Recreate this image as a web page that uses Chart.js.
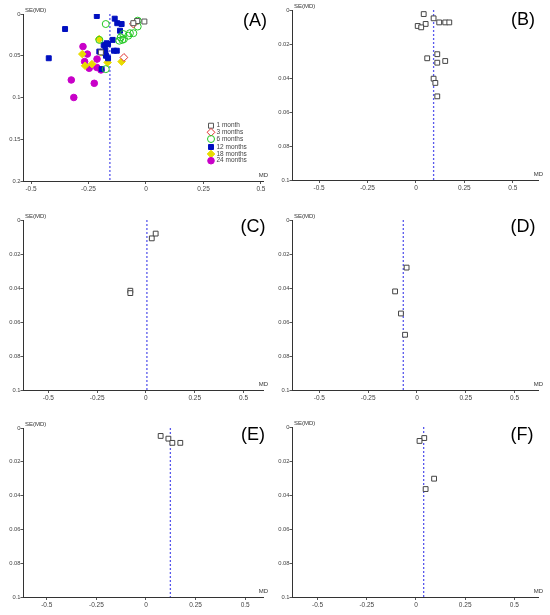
<!DOCTYPE html>
<html>
<head>
<meta charset="utf-8">
<script src="https://cdn.jsdelivr.net/npm/chart.js@4.4.1/dist/chart.umd.min.js"></script>
<style>
  html, body { margin: 0; padding: 0; background: #fff; }
  #wrap { position: relative; width: 550px; height: 615px; }
  #wrap canvas { position: absolute; }
</style>
</head>
<body>
<div id="wrap">
  <canvas id="cA" width="275" height="200" style="left:0;top:0"></canvas>
  <canvas id="cB" width="275" height="200" style="left:275px;top:0"></canvas>
  <canvas id="cC" width="275" height="200" style="left:0;top:200px"></canvas>
  <canvas id="cD" width="275" height="200" style="left:275px;top:200px"></canvas>
  <canvas id="cE" width="275" height="215" style="left:0;top:400px"></canvas>
  <canvas id="cF" width="275" height="215" style="left:275px;top:400px"></canvas>
</div>
<script>
// tick labels
const mdTicks = [-0.5, -0.25, 0, 0.25, 0.5];
const seTicksA = [0, 0.05, 0.1, 0.15, 0.2];
const seTicks = [0, 0.02, 0.04, 0.06, 0.08, 0.1];

// panel A: follow-up groups
const groupsA = ['1 month', '3 months', '6 months', '12 months', '18 months', '24 months'];
const md1m = [-0.007, -0.038, -0.055, -0.196];
const se1m = [0.009, 0.0084, 0.011, 0.046];
const md3m = [-0.055, -0.096];
const se3m = [0.012, 0.052];
const md6m = [-0.175, -0.036, -0.036, -0.055, -0.077, -0.099, -0.11, -0.103, -0.116, -0.096, -0.203, -0.175, -0.07];
const se6m = [0.012, 0.008, 0.015, 0.023, 0.026, 0.024, 0.028, 0.031, 0.032, 0.030, 0.031, 0.066, 0.023];
const md12m = [-0.214, -0.352, -0.423, -0.136, -0.125, -0.106, -0.113, -0.145, -0.165, -0.184, -0.177, -0.203, -0.177, -0.174, -0.165, -0.139, -0.127, -0.193, -0.171];
const se12m = [0.0024, 0.018, 0.053, 0.0056, 0.011, 0.012, 0.020, 0.031, 0.036, 0.037, 0.043, 0.045, 0.047, 0.050, 0.053, 0.044, 0.044, 0.066, 0.035];
const md18m = [-0.204, -0.196, -0.277, -0.265, -0.235, -0.167, -0.106];
const se18m = [0.030, 0.046, 0.048, 0.062, 0.060, 0.058, 0.057];
const md24m = [-0.274, -0.255, -0.213, -0.267, -0.247, -0.214, -0.196, -0.325, -0.225, -0.314];
const se24m = [0.039, 0.048, 0.054, 0.057, 0.065, 0.064, 0.067, 0.079, 0.083, 0.100];

// panels B-F
const mdB = [0.04, 0.091, 0.12, 0.151, 0.172, 0.05, 0.009, 0.027, 0.11, 0.058, 0.11, 0.151, 0.091, 0.1, 0.11];
const seB = [0.0024, 0.0049, 0.0073, 0.0073, 0.0073, 0.0082, 0.0094, 0.0102, 0.026, 0.0284, 0.031, 0.030, 0.0404, 0.0429, 0.0508];
const mdC = [0.03, 0.05, -0.08, -0.08];
const seC = [0.0108, 0.008, 0.0416, 0.043];
const mdD = [-0.053, -0.112, -0.082, -0.061];
const seD = [0.028, 0.042, 0.055, 0.0675];
const mdE = [0.074, 0.113, 0.133, 0.173];
const seE = [0.0047, 0.0063, 0.0088, 0.0088];
const mdF = [0.042, 0.018, 0.092, 0.049];
const seF = [0.0065, 0.0082, 0.0304, 0.0365];

// pooled estimate per panel
const panelNames = ['A', 'B', 'C', 'D', 'E', 'F'];
const pooledMD = [-0.157, 0.091, 0.005, -0.07, 0.123, 0.039];

const FONT = "'Liberation Sans', Arial, sans-serif";

function pts(md, se) {
  return md.map((v, i) => ({ x: v, y: se[i] }));
}

const stylesA = [
  { pointStyle: 'rect', radius: 3.5, bg: '#fff', border: '#555' },
  { pointStyle: 'rectRot', radius: 3.9, bg: '#fff', border: '#e03030' },
  { pointStyle: 'circle', radius: 3.5, bg: 'rgba(255,255,255,0)', border: '#22c822' },
  { pointStyle: 'rect', radius: 3.5, bg: '#0010c0', border: '#0010c0' },
  { pointStyle: 'rectRot', radius: 3.8, bg: '#e8dc00', border: '#e8dc00' },
  { pointStyle: 'circle', radius: 3.3, bg: '#c800c8', border: '#c800c8' }
];

const textPlugin = {
  id: 'panelText',
  afterDraw(chart, args, o) {
    const ctx = chart.ctx;
    const a = chart.chartArea;
    ctx.save();
    ctx.fillStyle = '#333';
    ctx.font = '6px ' + FONT;
    ctx.textBaseline = 'middle';
    ctx.textAlign = 'left';
    ctx.fillText('SE(MD)', a.left + 2, a.top - 4);
    ctx.textAlign = 'right';
    ctx.fillText('MD', a.right + 5, a.bottom - 6);
    ctx.fillStyle = '#000';
    ctx.font = '18px ' + FONT;
    ctx.textAlign = 'center';
    ctx.fillText('(' + o.letter + ')', o.lx, o.ly);
    if (o.legend) {
      ctx.font = '6.5px ' + FONT;
      ctx.textAlign = 'left';
      const ys = [125.7, 132.3, 139, 147, 154, 160.7];
      groupsA.forEach((g, i) => {
        const s = stylesA[i];
        ctx.fillStyle = s.bg;
        ctx.strokeStyle = s.border;
        ctx.lineWidth = 1;
        Chart.helpers.drawPoint(ctx, { pointStyle: s.pointStyle, radius: s.radius, rotation: 0, borderWidth: 1 }, 211, ys[i]);
        ctx.fillStyle = '#444';
        ctx.fillText(g, 216.5, ys[i]);
      });
    }
    ctx.restore();
  }
};

function makePanel(id, cfg) {
  const canvas = document.getElementById(id);
  const pooled = pooledMD[panelNames.indexOf(cfg.letter)];
  const datasets = cfg.series.map(s => ({
    data: s.data,
    pointStyle: s.style.pointStyle,
    pointRadius: s.style.radius,
    pointBackgroundColor: s.style.bg,
    pointBorderColor: s.style.border,
    pointBorderWidth: 1,
    showLine: false,
    order: 1
  }));
  datasets.push({
    type: 'line',
    data: [{ x: pooled, y: 0 }, { x: pooled, y: cfg.seMax }],
    borderColor: '#5858ec',
    borderWidth: 1.3,
    borderDash: [2, 2],
    pointRadius: 0,
    order: 10
  });
  new Chart(canvas, {
    type: 'scatter',
    data: { datasets },
    options: {
      responsive: false,
      animation: false,
      layout: { padding: { top: cfg.top, right: cfg.right, left: 0, bottom: 0 } },
      plugins: {
        legend: { display: false },
        tooltip: { enabled: false },
        panelText: { letter: cfg.letter, lx: cfg.lx, ly: cfg.ly, legend: cfg.legend }
      },
      scales: {
        x: {
          type: 'linear',
          min: cfg.xMin,
          max: cfg.xMax,
          afterBuildTicks: s => { s.ticks = mdTicks.map(v => ({ value: v })); },
          afterFit: s => { s.height = canvas.height - cfg.bottom; },
          ticks: { font: { family: FONT, size: 6.5 }, color: '#444', padding: 1, maxRotation: 0, autoSkip: false,
                   callback: v => String(v) },
          grid: { drawOnChartArea: false, drawTicks: true, tickLength: 3, color: '#555' },
          border: { display: true, color: '#333', width: 1 }
        },
        y: {
          type: 'linear',
          reverse: true,
          min: 0,
          max: cfg.seMax,
          afterBuildTicks: s => { s.ticks = cfg.seTicks.map(v => ({ value: v })); },
          afterFit: s => { s.width = cfg.left; },
          ticks: { font: { family: FONT, size: 5.8 }, color: '#444', padding: 0, autoSkip: false,
                   callback: v => String(parseFloat(v.toFixed(3))) },
          grid: { drawOnChartArea: false, drawTicks: true, tickLength: 2.5, color: '#555' },
          border: { display: true, color: '#333', width: 1 }
        }
      }
    },
    plugins: [textPlugin]
  });
}

const seriesA = [
  pts(md1m, se1m), pts(md3m, se3m), pts(md6m, se6m),
  pts(md12m, se12m), pts(md18m, se18m), pts(md24m, se24m)
].map((d, i) => ({ data: d, style: stylesA[i] }));
const openSq = { pointStyle: 'rect', radius: 3.4, bg: '#fff', border: '#444' };

makePanel('cA', { letter: 'A', series: seriesA, seMax: 0.2, seTicks: seTicksA, xMin: -0.535, xMax: 0.509,
  left: 23, top: 14, bottom: 181, right: 12, lx: 255, ly: 21, legend: true });
makePanel('cB', { letter: 'B', series: [{ data: pts(mdB, seB), style: openSq }], seMax: 0.1, seTicks, xMin: -0.64, xMax: 0.63,
  left: 17, top: 10, bottom: 180, right: 12, lx: 248, ly: 20 });
makePanel('cC', { letter: 'C', series: [{ data: pts(mdC, seC), style: openSq }], seMax: 0.1, seTicks, xMin: -0.63, xMax: 0.6,
  left: 23, top: 20, bottom: 190, right: 12, lx: 253, ly: 27 });
makePanel('cD', { letter: 'D', series: [{ data: pts(mdD, seD), style: openSq }], seMax: 0.1, seTicks, xMin: -0.64, xMax: 0.62,
  left: 17, top: 20, bottom: 190, right: 12, lx: 248, ly: 27 });
makePanel('cE', { letter: 'E', series: [{ data: pts(mdE, seE), style: openSq }], seMax: 0.1, seTicks, xMin: -0.62, xMax: 0.59,
  left: 23, top: 28, bottom: 197, right: 12, lx: 253, ly: 35 });
makePanel('cF', { letter: 'F', series: [{ data: pts(mdF, seF), style: openSq }], seMax: 0.1, seTicks, xMin: -0.63, xMax: 0.62,
  left: 17, top: 27, bottom: 197, right: 12, lx: 247, ly: 35 });
</script>
</body>
</html>
